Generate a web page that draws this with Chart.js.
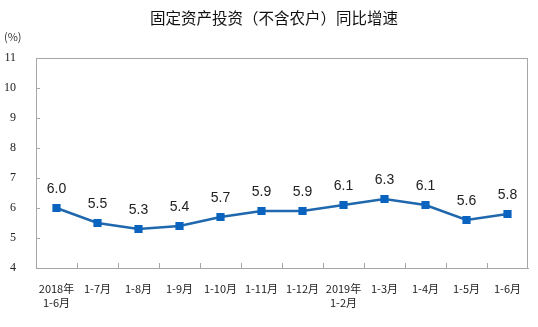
<!DOCTYPE html>
<html>
<head>
<meta charset="utf-8">
<script src="https://cdn.jsdelivr.net/npm/chart.js@4.4.1/dist/chart.umd.min.js"></script>
<style>
  html, body { margin: 0; padding: 0; background: #fff; }
  #wrap { width: 538px; height: 327px; position: relative; }
</style>
</head>
<body>
<div id="wrap"><canvas id="zengsu"></canvas></div>
<script>
const categories = [['2018年', '1-6月'], '1-7月', '1-8月', '1-9月', '1-10月', '1-11月', '1-12月', ['2019年', '1-2月'], '1-3月', '1-4月', '1-5月', '1-6月'];
const growth = [6.0, 5.5, 5.3, 5.4, 5.7, 5.9, 5.9, 6.1, 6.3, 6.1, 5.6, 5.8];
const yTicks = [4, 5, 6, 7, 8, 9, 10, 11];
const title = '固定资产投资（不含农户）同比增速';
const unit = '(%)';

const axisGray = '#a6a6a6';

// titulo, unidade, moldura, marcas internas e rotulos de dados
const extras = {
    id: 'extras',
    afterDraw(chart) {
        const c = chart.ctx;
        const a = chart.chartArea;
        const y = chart.scales.y;
        c.save();
        c.fillStyle = '#111';
        c.font = '15.5px "Noto Sans CJK SC"';
        c.textAlign = 'center';
        c.textBaseline = 'middle';
        c.fillText(title, 274, 18);
        c.font = '11px "Noto Sans CJK SC"';
        c.fillStyle = '#333';
        c.textAlign = 'left';
        c.fillText(unit, 4, 37);

        c.strokeStyle = axisGray;
        c.lineWidth = 1;
        c.beginPath();
        c.moveTo(a.left, a.top + 0.5); c.lineTo(a.right, a.top + 0.5);
        c.moveTo(a.right - 0.5, a.top); c.lineTo(a.right - 0.5, a.bottom);
        yTicks.forEach(v => {
            const py = Math.round(y.getPixelForValue(v)) + 0.5;
            c.moveTo(a.left, py); c.lineTo(a.left + 4, py);
        });
        const step = (a.right - a.left) / categories.length;
        for (let i = 1; i < categories.length; i++) {
            const px = Math.round(a.left + step * i) + 0.5;
            c.moveTo(px, a.bottom); c.lineTo(px, a.bottom - 5);
        }
        c.stroke();

        c.fillStyle = '#222';
        c.font = '14px "Liberation Sans"';
        c.textAlign = 'center';
        c.textBaseline = 'middle';
        const meta = chart.getDatasetMeta(0);
        meta.data.forEach((p, i) => {
            c.fillText(growth[i].toFixed(1), p.x, p.y - 19);
        });
        c.restore();
    }
};

const ctx = document.getElementById('zengsu').getContext('2d');
new Chart(ctx, {
    type: 'line',
    data: {
        labels: categories,
        datasets: [{
            label: title,
            data: growth,
            borderColor: '#2068ae',
            borderWidth: 2.5,
            pointStyle: 'rect',
            pointRadius: 5.8,
            pointBackgroundColor: '#0a63bf',
            pointBorderColor: '#0a63bf',
            pointBorderWidth: 0,
            tension: 0
        }]
    },
    options: {
        responsive: true,
        maintainAspectRatio: false,
        animation: false,
        layout: { padding: { top: 58, right: 10, left: 0, bottom: 0 } },
        scales: {
            x: {
                offset: true,
                grid: { display: false },
                border: { display: true, color: axisGray, width: 1 },
                ticks: {
                    color: '#222',
                    font: { family: '"Noto Sans CJK SC"', size: 11, lineHeight: 1.35 },
                    padding: 5,
                    maxRotation: 0,
                    autoSkip: false
                },
                afterFit(s) { s.height = 59; }
            },
            y: {
                min: 4,
                max: 11,
                grid: { display: false },
                border: { display: true, color: axisGray, width: 1 },
                ticks: {
                    stepSize: 1,
                    color: '#222',
                    font: { family: '"Liberation Serif"', size: 12 },
                    padding: 12
                },
                afterFit(s) { s.width = 36; }
            }
        },
        plugins: {
            legend: { display: false },
            title: { display: false },
            tooltip: { enabled: false }
        }
    },
    plugins: [extras]
});
</script>
</body>
</html>
